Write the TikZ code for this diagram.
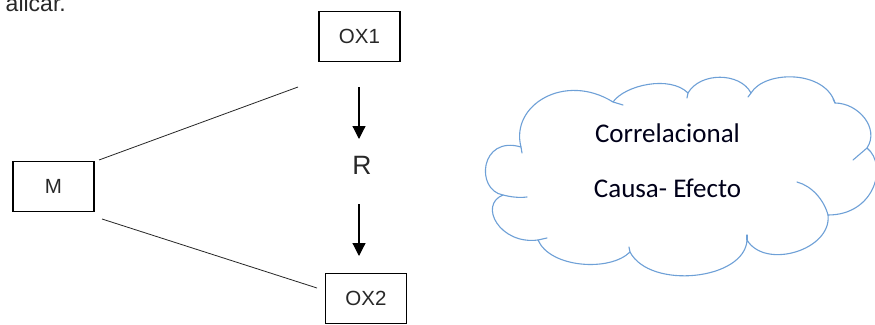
\documentclass[tikz,border=0pt]{standalone}
\usepackage{fontspec}
\setmainfont{Liberation Sans}
\newfontfamily\cloudfont{Carlito}
\usetikzlibrary{arrows.meta}
\definecolor{cloudblue}{RGB}{110,160,215}
\definecolor{textgray}{RGB}{40,40,40}
\begin{document}
\begin{tikzpicture}[x=1pt,y=-1pt,
  box/.style={draw=black,line width=1.1pt,minimum width=81pt,minimum height=50pt,inner sep=0pt,font=\fontsize{20.5}{22}\selectfont,text=textgray},
  link/.style={draw=black!85,line width=0.8pt},
  arr/.style={draw=black,line width=1.2pt,-{Triangle[length=13pt,width=13pt]}},
  cloudline/.style={draw=cloudblue,line width=1.1pt,line join=round,line cap=round},
  cloudtext/.style={font=\cloudfont\fontsize{27}{30}\selectfont,text=black!90!blue,inner sep=0pt,anchor=base}]
\useasboundingbox (0,0) rectangle (875,324);
\fill[white] (0,0) rectangle (875,324);

% clipped text fragment at top left (cut off in the reference too)
\node[anchor=base east,inner sep=0pt,text=textgray,font=\fontsize{23}{25}\selectfont] (frag) at (66,11) {alicar.};

% boxes
\node[box] (OX1) at (359.5,36.5) {OX1};
\node[box] (M) at (53.5,186.5) {M};
\node[box] (OX2) at (366,298.5) {OX2};
\node[inner sep=0pt,font=\fontsize{26.5}{28}\selectfont,text=textgray] (R) at (362,165) {R};

% connector end points
\coordinate (m1) at (99,160);
\coordinate (o1) at (298,87);
\coordinate (m2) at (102,219);
\coordinate (o2) at (317,288);
\coordinate (a1s) at (359,87);
\coordinate (a1e) at (359,139);
\coordinate (a2s) at (359,204);
\coordinate (a2e) at (359,256);

\draw[link] (m1) -- (o1);
\draw[link] (m2) -- (o2);
\draw[arr] (a1s) -- (a1e);
\draw[arr] (a2s) -- (a2e);

% cloud
\draw[cloudline]
  (521,147) .. controls (510,105) and (565,72) .. (613,102)
  .. controls (625,85) and (670,75) .. (688,93)
  .. controls (700,72) and (740,72) .. (751,93)
  .. controls (765,70) and (825,70) .. (835,103)
  .. controls (858,103) and (880,128) .. (867,148)
  .. controls (888,165) and (875,215) .. (828,215)
  .. controls (832,250) and (765,270) .. (747,240)
  .. controls (745,280) and (650,290) .. (630,252)
  .. controls (610,272) and (550,268) .. (538,240)
  .. controls (500,245) and (478,205) .. (503,195)
  .. controls (475,190) and (480,135) .. (521,147);
% inner ticks of the cloud
\draw[cloudline] (503,195) .. controls (511,197) and (519,198) .. (527,197);
\draw[cloudline] (538,240) -- (547,238);
\draw[cloudline] (630,252) -- (629,247);
\draw[cloudline] (747,240) -- (747,235);
\draw[cloudline] (828,215) .. controls (824,200) and (812,186) .. (797,182);
\draw[cloudline] (867,148) -- (853,160);
\draw[cloudline] (835,103) -- (833,99);
\draw[cloudline] (751,93) -- (748,97);
\draw[cloudline] (688,93) -- (687,98);
\draw[cloudline] (613,102) -- (623,105);
\draw[cloudline] (521,147) -- (522,153);

\node[cloudtext] (t1) at (667.5,142) {Correlacional};
\node[cloudtext] (t2) at (667.5,197) {Causa- Efecto};
\end{tikzpicture}
\end{document}
